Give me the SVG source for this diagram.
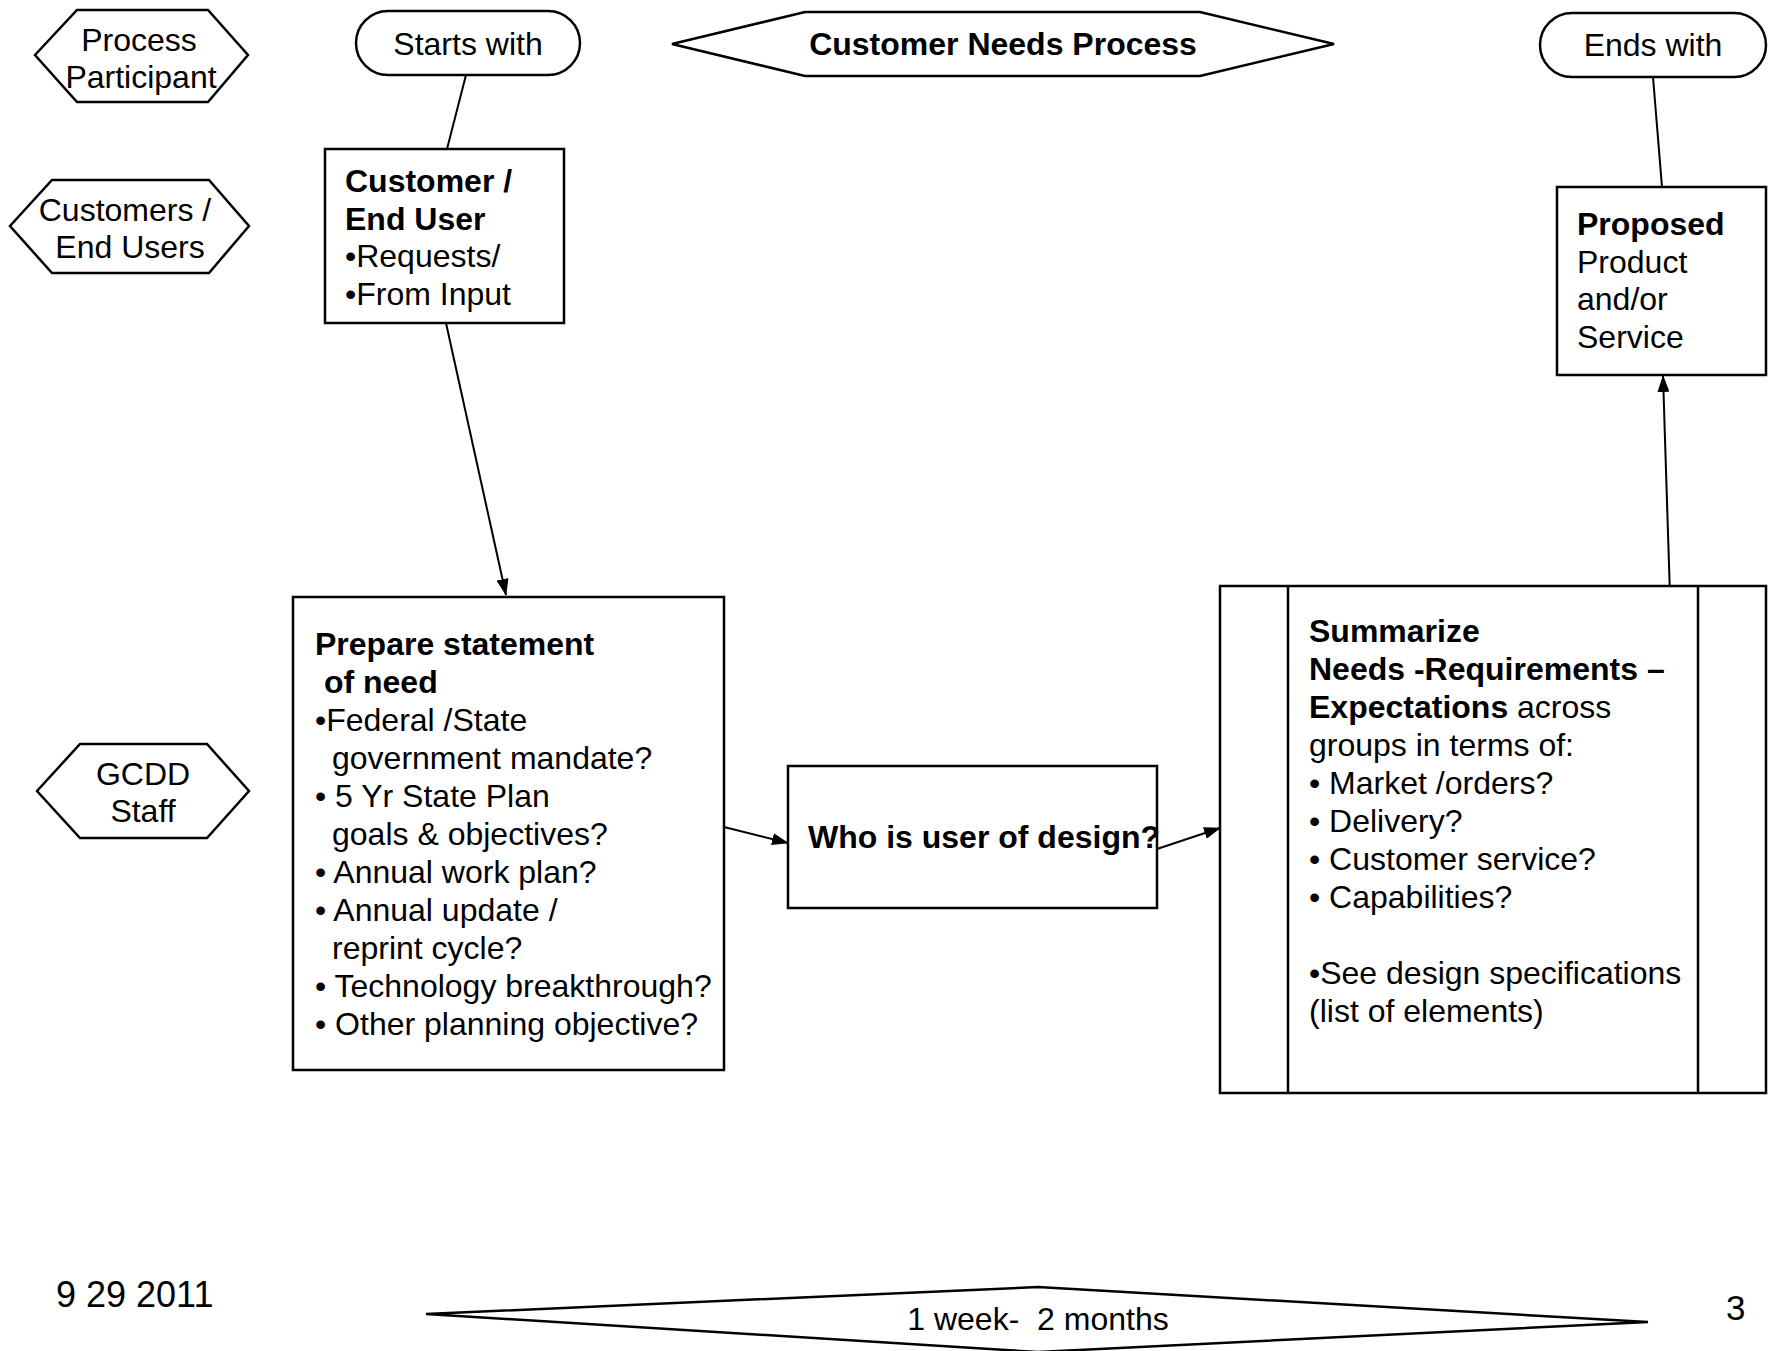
<svg xmlns="http://www.w3.org/2000/svg" width="1775" height="1351" viewBox="0 0 1775 1351">
<style>
text{font-family:"Liberation Sans",Arial,sans-serif;font-size:32px;fill:#000;white-space:pre}
.b{font-weight:bold}
.m{text-anchor:middle}
.s{fill:#fff;stroke:#000;stroke-width:2.5}
.c{fill:none;stroke:#000;stroke-width:2}
</style>
<defs>
<marker id="ah" viewBox="0 0 17 12" refX="16" refY="6" markerWidth="17" markerHeight="12" markerUnits="userSpaceOnUse" orient="auto">
<path d="M0,0 L17,6 L0,12 z" fill="#000"/>
</marker>
</defs>
<rect width="1775" height="1351" fill="#fff"/>
<g id="connectors">
<line class="c" x1="466" y1="75" x2="447" y2="149"/>
<line class="c" x1="446" y1="323" x2="506" y2="595" marker-end="url(#ah)"/>
<line class="c" x1="724" y1="827" x2="788" y2="843" marker-end="url(#ah)"/>
<line class="c" x1="1157" y1="849" x2="1220" y2="828" marker-end="url(#ah)"/>
<line class="c" x1="1670" y1="596" x2="1663" y2="376" marker-end="url(#ah)"/>
<line class="c" x1="1653" y1="77" x2="1662" y2="187"/>
</g>
<g id="process-participant">
<polygon class="s" points="35,55 77,10 208,10 248,55 208,102 77,102"/>
<text class="m" x="139" y="51">Process</text>
<text class="m" x="141" y="88">Participant</text>
</g>
<g id="customers-end-users">
<polygon class="s" points="10,226 52,180 209,180 249,226 209,273 52,273"/>
<text class="m" x="125" y="221">Customers /</text>
<text class="m" x="130" y="258">End Users</text>
</g>
<g id="gcdd-staff">
<polygon class="s" points="37,791 80,744 207,744 249,791 207,838 80,838"/>
<text class="m" x="143" y="785">GCDD</text>
<text class="m" x="143" y="822">Staff</text>
</g>
<g id="starts-with">
<rect class="s" x="356" y="11" width="224" height="64" rx="32" ry="32"/>
<text class="m" x="468" y="55">Starts with</text>
</g>
<g id="customer-needs-process">
<polygon class="s" points="672,44 805,12 1200,12 1334,44 1200,76 805,76"/>
<text class="m b" x="1003" y="55">Customer Needs Process</text>
</g>
<g id="ends-with">
<rect class="s" x="1540" y="13" width="226" height="64" rx="32" ry="32"/>
<text class="m" x="1653" y="56">Ends with</text>
</g>
<g id="customer-end-user">
<rect class="s" x="325" y="149" width="239" height="174"/>
<text class="b" x="345" y="192">Customer /</text>
<text class="b" x="345" y="230">End User</text>
<text x="345" y="267">•Requests/</text>
<text x="345" y="305">•From Input</text>
</g>
<g id="prepare-statement">
<rect class="s" x="293" y="597" width="431" height="473"/>
<text class="b" x="315" y="655">Prepare statement</text>
<text class="b" x="315" y="693"> of need</text>
<text x="315" y="731">•Federal /State</text>
<text x="332" y="769">government mandate?</text>
<text x="315" y="807">• 5 Yr State Plan</text>
<text x="332" y="845">goals &amp; objectives?</text>
<text x="315" y="883">• Annual work plan?</text>
<text x="315" y="921">• Annual update /</text>
<text x="332" y="959">reprint cycle?</text>
<text x="315" y="997">• Technology breakthrough?</text>
<text x="315" y="1035">• Other planning objective?</text>
</g>
<g id="who-is-user">
<rect class="s" x="788" y="766" width="369" height="142"/>
<text class="b" x="808" y="848">Who is user of design?</text>
</g>
<g id="summarize">
<rect class="s" x="1220" y="586" width="546" height="507"/>
<line class="c" x1="1288" y1="586" x2="1288" y2="1093" style="stroke-width:2.5"/>
<line class="c" x1="1698" y1="586" x2="1698" y2="1093" style="stroke-width:2.5"/>
<text class="b" x="1309" y="642">Summarize</text>
<text class="b" x="1309" y="680">Needs -Requirements –</text>
<text x="1309" y="718"><tspan class="b">Expectations</tspan> across</text>
<text x="1309" y="756">groups in terms of:</text>
<text x="1309" y="794">• Market /orders?</text>
<text x="1309" y="832">• Delivery?</text>
<text x="1309" y="870">• Customer service?</text>
<text x="1309" y="908">• Capabilities?</text>
<text x="1309" y="984">•See design specifications</text>
<text x="1309" y="1022">(list of elements)</text>
</g>
<g id="proposed">
<rect class="s" x="1557" y="187" width="209" height="188"/>
<text class="b" x="1577" y="235">Proposed</text>
<text x="1577" y="273">Product</text>
<text x="1577" y="310">and/or</text>
<text x="1577" y="348">Service</text>
</g>
<g id="duration">
<polygon class="s" points="426,1314 1038,1287 1648,1322 1038,1352"/>
<text class="m" x="1038" y="1330">1 week-  2 months</text>
</g>
<text x="56" y="1307" style="font-size:36px">9 29 2011</text>
<text x="1726" y="1320" style="font-size:35px">3</text>
</svg>
